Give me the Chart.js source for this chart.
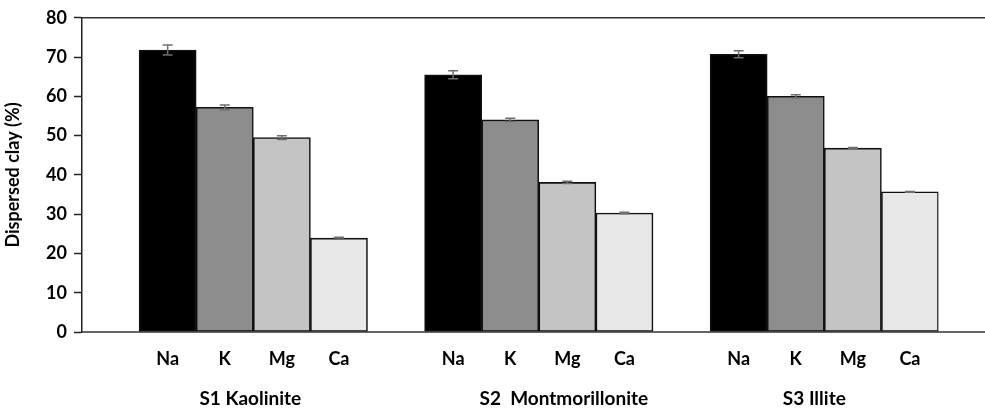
<!DOCTYPE html>
<html>
<head>
<meta charset="utf-8">
<script src="https://cdn.jsdelivr.net/npm/chart.js@4.4.0/dist/chart.umd.min.js"></script>
<style>
html,body{margin:0;padding:0;background:#fff;overflow:hidden}
#wrap{width:985px;height:410px;position:relative}
</style>
</head>
<body>
<div id="wrap"><canvas id="clayChart"></canvas></div>
<script>
// soil groups and exchangeable cations
const soils = ["S1 Kaolinite", "S2  Montmorillonite", "S3 Illite"];
const ions = ["Na", "K", "Mg", "Ca"];

// dispersed clay (%) per soil
const naValues = [71.8, 65.5, 70.7];
const kValues = [57.2, 54.0, 60.0];
const mgValues = [49.5, 38.1, 46.8];
const caValues = [23.9, 30.3, 35.7];

// standard errors
const naErr = [1.3, 1.0, 0.9];
const kErr = [0.6, 0.4, 0.4];
const mgErr = [0.5, 0.3, 0.2];
const caErr = [0.2, 0.2, 0.1];

const yMax = 80, yStep = 10;

const FONT = "Lato, 'Open Sans', sans-serif";
const ionColors = ['#000000', '#8c8c8c', '#c4c4c4', '#e8e8e8'];
const allValues = [naValues, kValues, mgValues, caValues];
const allErr = [naErr, kErr, mgErr, caErr];

// first dataset is an empty spacer, like the blank slot before each group
const datasets = [{ label: '', data: soils.map(() => null), backgroundColor: 'transparent', borderWidth: 0 }];
ions.forEach((ion, i) => {
  datasets.push({
    label: ion,
    data: allValues[i],
    errors: allErr[i],
    backgroundColor: ionColors[i],
    borderColor: '#111',
    borderWidth: 1.6,
    borderSkipped: false
  });
});

const frameLines = {
  id: 'frameLines',
  afterDraw(chart) {
    const ctx = chart.ctx, a = chart.chartArea;
    ctx.save();
    ctx.strokeStyle = '#333';
    ctx.lineWidth = 1.5;
    ctx.beginPath();
    ctx.moveTo(a.left, a.top); ctx.lineTo(chart.width, a.top);
    ctx.moveTo(a.left, a.bottom); ctx.lineTo(chart.width, a.bottom);
    ctx.stroke();
    ctx.restore();
  }
};

const errorBars = {
  id: 'errorBars',
  afterDatasetsDraw(chart) {
    const ctx = chart.ctx, y = chart.scales.y;
    ctx.save();
    ctx.strokeStyle = '#6e6e6e';
    ctx.lineWidth = 1.5;
    chart.data.datasets.forEach((ds, i) => {
      if (!ds.errors) return;
      chart.getDatasetMeta(i).data.forEach((bar, j) => {
        const v = ds.data[j], e = ds.errors[j];
        const top = y.getPixelForValue(v + e), bot = y.getPixelForValue(v - e);
        ctx.beginPath();
        ctx.moveTo(bar.x, top); ctx.lineTo(bar.x, bot);
        ctx.moveTo(bar.x - 5, top); ctx.lineTo(bar.x + 5, top);
        ctx.moveTo(bar.x - 5, bot); ctx.lineTo(bar.x + 5, bot);
        ctx.stroke();
      });
    });
    ctx.restore();
  }
};

// cation names under each bar, soil names below them
const soilShift = [-3, 25, -10];
const groupLabels = {
  id: 'groupLabels',
  afterDraw(chart) {
    const ctx = chart.ctx, a = chart.chartArea;
    ctx.save();
    ctx.fillStyle = '#000';
    ctx.textAlign = 'center';
    ctx.textBaseline = 'middle';
    soils.forEach((s, j) => {
      let xs = [];
      ctx.font = 'bold 18px ' + FONT;
      ions.forEach((ion, i) => {
        const bar = chart.getDatasetMeta(i + 1).data[j];
        ctx.fillText(ion, bar.x, a.bottom + 27);
        xs.push(bar.x);
      });
      const mid = (xs[0] + xs[xs.length - 1]) / 2;
      ctx.font = 'bold 19px ' + FONT;
      ctx.fillText(s, mid + soilShift[j], a.bottom + 67);
    });
    ctx.restore();
  }
};

new Chart(document.getElementById('clayChart').getContext('2d'), {
  type: 'bar',
  data: { labels: soils, datasets: datasets },
  options: {
    responsive: true,
    maintainAspectRatio: false,
    animation: false,
    layout: { padding: { top: 17, right: 46.5, bottom: 78, left: 0 } },
    plugins: { legend: { display: false }, tooltip: { enabled: false } },
    datasets: { bar: { categoryPercentage: 1, barPercentage: 1 } },
    scales: {
      x: { display: false },
      y: {
        min: 0, max: yMax,
        afterFit(scale) { scale.width = 82; },
        ticks: { stepSize: yStep, color: '#000', padding: 7, font: { family: FONT, size: 18, weight: 'bold' } },
        grid: { drawOnChartArea: false, tickLength: 8, tickColor: '#222', tickWidth: 1.5 },
        border: { color: '#222', width: 1.5 },
        title: { display: true, text: 'Dispersed clay (%)', color: '#000', padding: { top: 2, bottom: 4 },
                 font: { family: FONT, size: 18, weight: 'bold' } }
      }
    }
  },
  plugins: [frameLines, errorBars, groupLabels]
});
</script>
</body>
</html>
